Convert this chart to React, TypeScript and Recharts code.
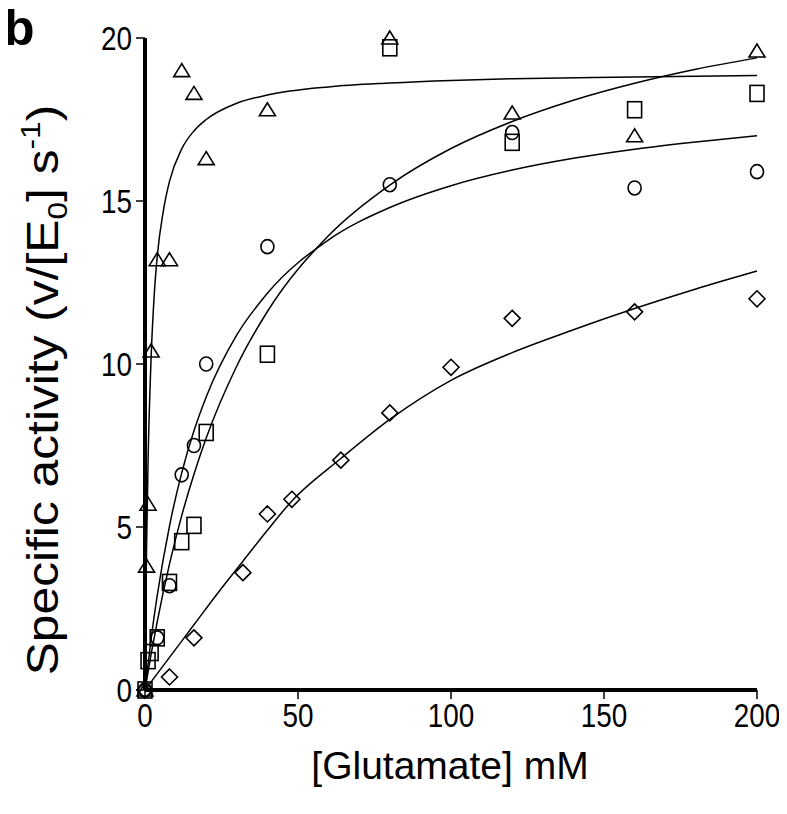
import { ComposedChart, Line, Scatter, XAxis, YAxis } from "recharts";

// measured points (glutamate mM, specific activity)
const triangleX = [0, 0.5, 1, 2, 4, 8, 12, 16, 20, 40, 80, 120, 160, 200];
const triangleY = [0, 3.8, 5.7, 10.4, 13.2, 13.2, 19.0, 18.3, 16.3, 17.8, 20.0, 17.7, 17.0, 19.6];

const circleX = [0, 4, 8, 12, 16, 20, 40, 80, 120, 160, 200];
const circleY = [0, 1.6, 3.2, 6.6, 7.5, 10.0, 13.6, 15.5, 17.1, 15.4, 15.9];

const squareX = [0, 1, 2, 4, 8, 12, 16, 20, 40, 80, 120, 160, 200];
const squareY = [0, 0.9, 1.15, 1.6, 3.3, 4.55, 5.05, 7.9, 10.3, 19.7, 16.8, 17.8, 18.3];

const diamondX = [0, 8, 16, 32, 40, 48, 64, 80, 100, 120, 160, 200];
const diamondY = [0, 0.4, 1.6, 3.6, 5.4, 5.85, 7.05, 8.5, 9.9, 11.4, 11.6, 12.0];

// fitted curves
const triangleFitX = [0, 0.5, 1, 2, 3, 4, 6, 8, 12, 16, 20, 30, 40, 60, 80, 100, 120, 160, 200];
const triangleFitY = [0, 4.3, 7.0, 10.2, 12.1, 13.3, 14.7, 15.6, 16.6, 17.15, 17.5, 18.0, 18.25, 18.5, 18.62, 18.7, 18.75, 18.8, 18.85];

const circleFitX = [0, 2, 4, 8, 12, 16, 20, 30, 40, 60, 80, 100, 120, 140, 160, 180, 200];
const circleFitY = [0, 1.57, 2.9, 5.03, 6.66, 7.95, 8.99, 10.89, 12.17, 13.81, 14.8, 15.47, 15.95, 16.31, 16.59, 16.81, 17.0];

const squareFitX = [0, 2, 4, 8, 12, 16, 20, 30, 40, 60, 80, 100, 120, 140, 160, 180, 200];
const squareFitY = [0, 1.1, 2.1, 3.86, 5.35, 6.62, 7.73, 9.94, 11.61, 13.94, 15.49, 16.61, 17.44, 18.09, 18.61, 19.04, 19.39];

const diamondFitX = [0, 8, 16, 24, 32, 40, 48, 64, 80, 100, 120, 140, 160, 180, 200];
const diamondFitY = [0, 1.0, 2.0, 3.0, 3.95, 4.9, 5.8, 7.1, 8.3, 9.5, 10.35, 11.05, 11.7, 12.3, 12.85];

const xTicks = [0, 50, 100, 150, 200];
const yTicks = [0, 5, 10, 15, 20];

const zip = (xs: number[], ys: number[]) => xs.map((x, i) => ({ x, y: ys[i] }));

const triangles = zip(triangleX, triangleY);
const circles = zip(circleX, circleY);
const squares = zip(squareX, squareY);
const diamonds = zip(diamondX, diamondY);

const triangleFit = zip(triangleFitX, triangleFitY);
const circleFit = zip(circleFitX, circleFitY);
const squareFit = zip(squareFitX, squareFitY);
const diamondFit = zip(diamondFitX, diamondFitY);

const ink = "#000";
const markStroke = 1.6;
const sans = "'Liberation Sans', Arial, sans-serif";

const TriangleMark = ({ cx, cy }: any) => (
  <polygon
    points={`${cx},${cy - 7} ${cx - 8},${cy + 6} ${cx + 8},${cy + 6}`}
    fill="none"
    stroke={ink}
    strokeWidth={markStroke}
  />
);

const CircleMark = ({ cx, cy }: any) => (
  <ellipse cx={cx} cy={cy} rx={6.5} ry={7} fill="none" stroke={ink} strokeWidth={markStroke} />
);

const SquareMark = ({ cx, cy }: any) => (
  <rect x={cx - 7} y={cy - 8} width={14} height={16} fill="none" stroke={ink} strokeWidth={markStroke} />
);

const DiamondMark = ({ cx, cy }: any) => (
  <polygon
    points={`${cx},${cy - 8} ${cx + 8},${cy} ${cx},${cy + 8} ${cx - 8},${cy}`}
    fill="none"
    stroke={ink}
    strokeWidth={markStroke}
  />
);

// condensed tick labels like the original figure
const XTick = ({ x, y, payload }: any) => (
  <text
    transform={`translate(${x}, ${y}) scale(0.82, 1)`}
    textAnchor="middle"
    dy="0.71em"
    fill={ink}
    fontSize={34}
    fontFamily={sans}
  >
    {payload.value}
  </text>
);

const YTick = ({ x, y, payload }: any) => (
  <text
    transform={`translate(${x}, ${y}) scale(0.82, 1)`}
    textAnchor="end"
    dy="0.355em"
    fill={ink}
    fontSize={34}
    fontFamily={sans}
  >
    {payload.value}
  </text>
);

const YTitle = () => (
  <text
    transform="translate(58, 390) rotate(-90) scale(1.13, 1)"
    textAnchor="middle"
    fill={ink}
    fontSize={44}
    fontFamily={sans}
  >
    Specific activity (v/[E
    <tspan fontSize={28} dy={9}>0</tspan>
    <tspan dy={-9}>] s</tspan>
    <tspan fontSize={28} dy={-18}>-1</tspan>
    <tspan dy={18}>)</tspan>
  </text>
);

const XTitle = () => (
  <text x={450} y={779} textAnchor="middle" fill={ink} fontSize={39} fontFamily={sans}>
    [Glutamate] mM
  </text>
);

const PanelLetter = () => (
  <text x={4} y={45} fill={ink} fontSize={50} fontWeight={700} fontFamily={sans}>
    b
  </text>
);

export default function App() {
  return (
    <div style={{ margin: -8, width: 787, height: 814, background: "#fff" }}>
      <ComposedChart width={787} height={814} margin={{ top: 38, right: 30, left: 0, bottom: 0 }}>
        <XAxis
          type="number"
          dataKey="x"
          domain={[0, 200]}
          ticks={xTicks}
          height={124}
          axisLine={{ stroke: ink, strokeWidth: 4 }}
          tickLine={{ stroke: ink, strokeWidth: 1.5 }}
          tickSize={9}
          tickMargin={4}
          tick={<XTick />}
          label={{ content: () => <XTitle /> }}
        />
        <YAxis
          type="number"
          dataKey="y"
          domain={[0, 20]}
          ticks={yTicks}
          width={145}
          axisLine={{ stroke: ink, strokeWidth: 4 }}
          tickLine={{ stroke: ink, strokeWidth: 1.5 }}
          tickSize={9}
          tickMargin={4}
          tick={<YTick />}
          label={{
            content: () => (
              <g>
                <YTitle />
                <PanelLetter />
              </g>
            ),
          }}
        />
        <Line data={triangleFit} dataKey="y" type="monotone" stroke={ink} strokeWidth={1.5} dot={false} activeDot={false} isAnimationActive={false} />
        <Line data={circleFit} dataKey="y" type="monotone" stroke={ink} strokeWidth={1.5} dot={false} activeDot={false} isAnimationActive={false} />
        <Line data={squareFit} dataKey="y" type="monotone" stroke={ink} strokeWidth={1.5} dot={false} activeDot={false} isAnimationActive={false} />
        <Line data={diamondFit} dataKey="y" type="monotone" stroke={ink} strokeWidth={1.5} dot={false} activeDot={false} isAnimationActive={false} />
        <Scatter data={diamonds} dataKey="y" shape={<DiamondMark />} isAnimationActive={false} />
        <Scatter data={squares} dataKey="y" shape={<SquareMark />} isAnimationActive={false} />
        <Scatter data={circles} dataKey="y" shape={<CircleMark />} isAnimationActive={false} />
        <Scatter data={triangles} dataKey="y" shape={<TriangleMark />} isAnimationActive={false} />
      </ComposedChart>
    </div>
  );
}
